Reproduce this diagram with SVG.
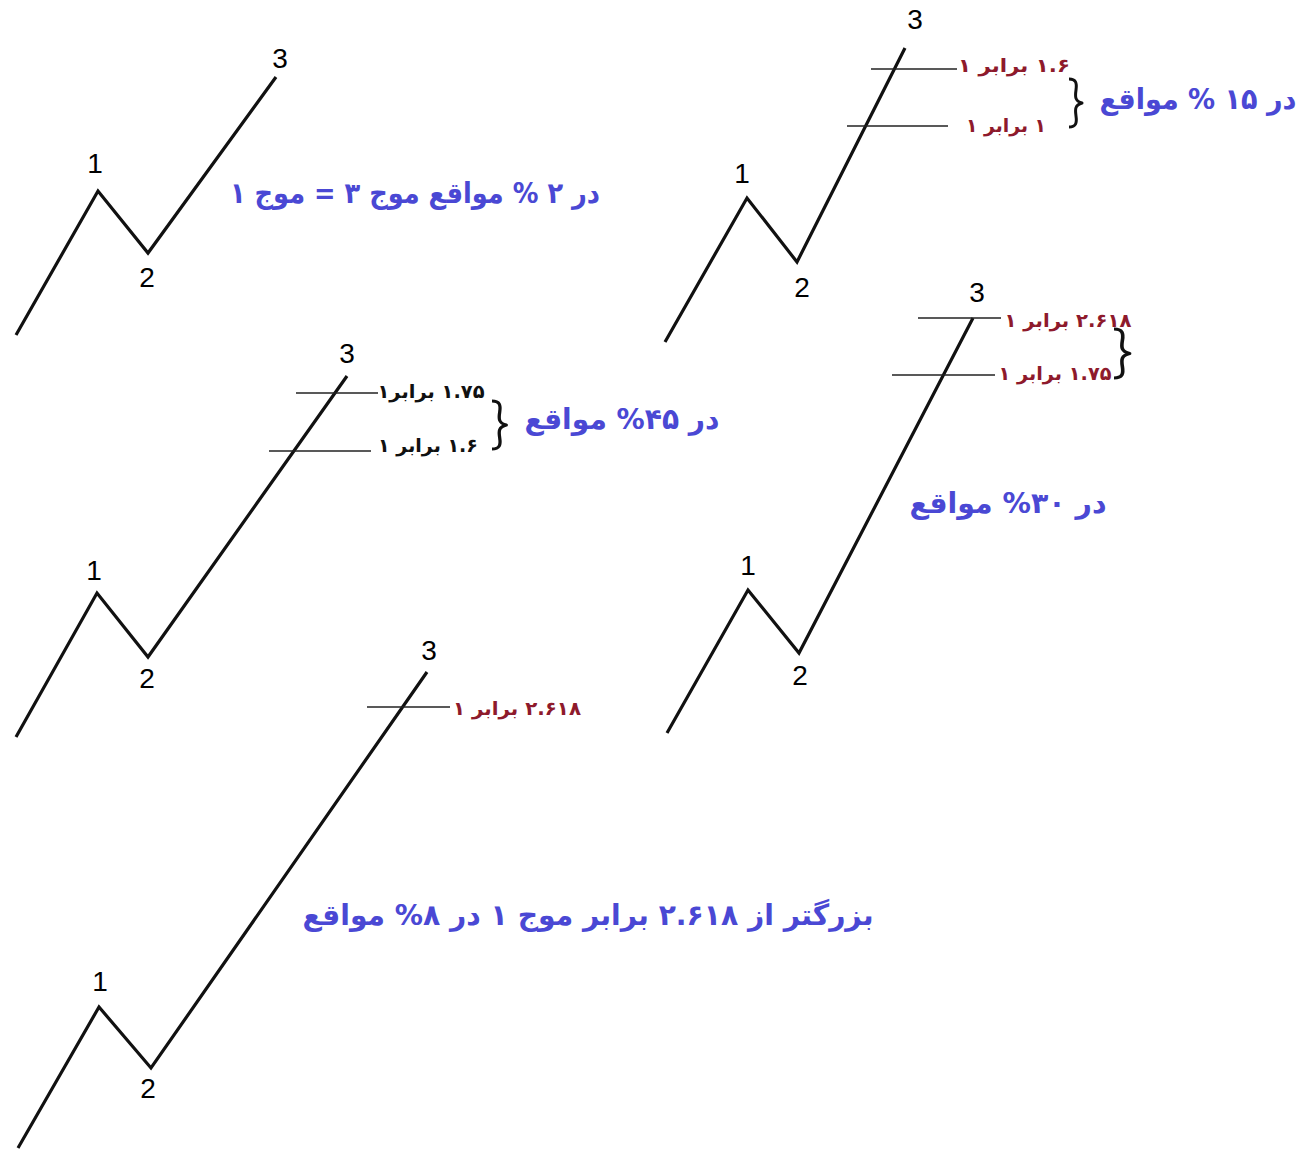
<svg xmlns="http://www.w3.org/2000/svg" width="1302" height="1150" viewBox="0 0 1302 1150">
<style>
.wave{fill:none;stroke:#111;stroke-width:3.2;stroke-linejoin:miter;stroke-linecap:butt}
.lvl{stroke:#222;stroke-width:1.6}
.brace{fill:none;stroke:#111;stroke-width:3;stroke-linejoin:round}
.num{font-family:"Liberation Sans",Arial,sans-serif;font-size:28px;fill:#000;text-anchor:middle}
.fa{font-family:"DejaVu Sans","Noto Sans",sans-serif;font-weight:bold;direction:rtl;text-anchor:middle}
.blue{fill:#4a48d4;font-size:29px}
.red{fill:#8e1a2c;font-size:19px}
.blk{fill:#111;font-size:19px}
</style>
<rect width="1302" height="1150" fill="#fff"/>
<defs>
<path id="br" d="M0,0 C7,0 8,4 7,11 C6,18 6,22 13,24 C6,26 6,30 7,37 C8,44 7,48 0,48"/>
</defs>

<g id="connectors">
<polyline class="wave" points="16,335 98,191 148,253 276,77"/>
<polyline class="wave" points="665,342 747,198 797,262 905,48"/>
<polyline class="wave" points="16,737 97,593 148,657 347,376"/>
<polyline class="wave" points="667,733 748,590 799,653 973,318"/>
<polyline class="wave" points="18,1148 99,1007 151,1068 427,672"/>
<line class="lvl" x1="871" y1="69" x2="957" y2="69"/>
<line class="lvl" x1="847" y1="126" x2="948" y2="126"/>
<line class="lvl" x1="296" y1="393" x2="378" y2="393"/>
<line class="lvl" x1="269" y1="451" x2="371" y2="451"/>
<line class="lvl" x1="918" y1="318" x2="1001" y2="318"/>
<line class="lvl" x1="892" y1="375" x2="995" y2="375"/>
<line class="lvl" x1="367" y1="707" x2="450" y2="707"/>
<use class="brace" href="#br" transform="translate(1069,79)"/>
<use class="brace" href="#br" transform="translate(492,401) scale(1.1,1)"/>
<use class="brace" href="#br" transform="translate(1114,329) scale(1.2,1.02)"/>
</g>

<g id="panel-a">
<text class="num" x="95" y="173">1</text>
<text class="num" x="147" y="287">2</text>
<text class="num" x="280" y="68">3</text>
<text class="fa blue" x="415" y="203" textLength="370" lengthAdjust="spacingAndGlyphs">در ۲ % مواقع موج ۳ = موج ۱</text>
</g>

<g id="panel-b">
<text class="num" x="742" y="183">1</text>
<text class="num" x="802" y="297">2</text>
<text class="num" x="915" y="29">3</text>
<text class="fa red" x="1014" y="72" textLength="112" lengthAdjust="spacingAndGlyphs">۱.۶ برابر ۱</text>
<text class="fa red" x="1006" y="132" textLength="80" lengthAdjust="spacingAndGlyphs">۱ برابر ۱</text>
<text class="fa blue" x="1198" y="109" textLength="197" lengthAdjust="spacingAndGlyphs">در ۱۵ % مواقع</text>
</g>

<g id="panel-c">
<text class="num" x="94" y="580">1</text>
<text class="num" x="147" y="688">2</text>
<text class="num" x="347" y="363">3</text>
<text class="fa blk" x="431" y="398" textLength="107" lengthAdjust="spacingAndGlyphs">۱.۷۵ برابر۱</text>
<text class="fa blk" x="428" y="452" textLength="100" lengthAdjust="spacingAndGlyphs">۱.۶ برابر ۱</text>
<text class="fa blue" x="622" y="429" textLength="195" lengthAdjust="spacingAndGlyphs">در ۴۵% مواقع</text>
</g>

<g id="panel-d">
<text class="num" x="748" y="575">1</text>
<text class="num" x="800" y="685">2</text>
<text class="num" x="977" y="302">3</text>
<text class="fa red" x="1068" y="327" textLength="127" lengthAdjust="spacingAndGlyphs">۲.۶۱۸ برابر ۱</text>
<text class="fa red" x="1055" y="380" textLength="113" lengthAdjust="spacingAndGlyphs">۱.۷۵ برابر ۱</text>
<text class="fa blue" x="1008" y="513" textLength="197" lengthAdjust="spacingAndGlyphs">در ۳۰% مواقع</text>
</g>

<g id="panel-e">
<text class="num" x="100" y="991">1</text>
<text class="num" x="148" y="1098">2</text>
<text class="num" x="429" y="660">3</text>
<text class="fa red" x="517" y="715" textLength="128" lengthAdjust="spacingAndGlyphs">۲.۶۱۸ برابر ۱</text>
<text class="fa blue" x="588" y="925" textLength="571" lengthAdjust="spacingAndGlyphs">بزرگتر از ۲.۶۱۸ برابر موج ۱ در ۸% مواقع</text>
</g>
</svg>
